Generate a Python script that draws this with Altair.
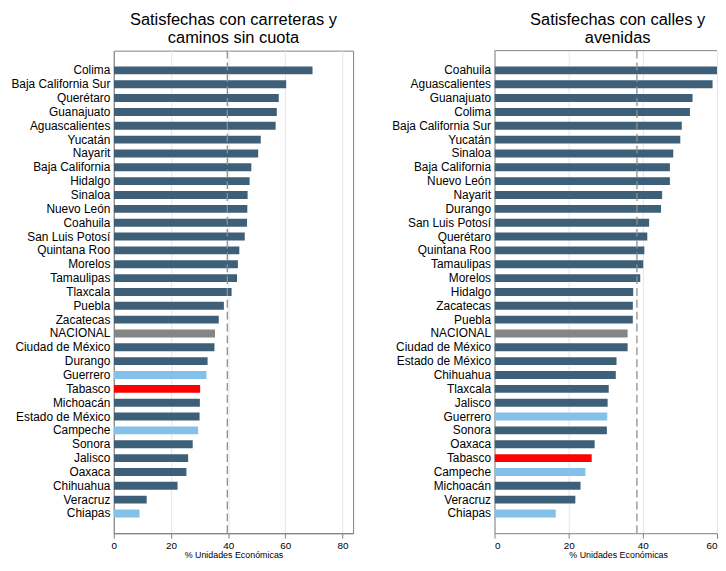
import altair as alt
import pandas as pd

# ---- Data ----
estados_carreteras = ["Colima", "Baja California Sur", "Querétaro", "Guanajuato", "Aguascalientes",
                      "Yucatán", "Nayarit", "Baja California", "Hidalgo", "Sinaloa",
                      "Nuevo León", "Coahuila", "San Luis Potosí", "Quintana Roo", "Morelos",
                      "Tamaulipas", "Tlaxcala", "Puebla", "Zacatecas", "NACIONAL",
                      "Ciudad de México", "Durango", "Guerrero", "Tabasco", "Michoacán",
                      "Estado de México", "Campeche", "Sonora", "Jalisco", "Oaxaca",
                      "Chihuahua", "Veracruz", "Chiapas"]
valores_carreteras = [69.5, 60.3, 57.7, 57.0, 56.6,
                      51.4, 50.5, 48.1, 47.5, 46.8,
                      46.7, 46.6, 45.8, 43.9, 43.4,
                      43.1, 41.2, 38.5, 36.7, 35.4,
                      35.2, 32.8, 32.4, 30.2, 30.1,
                      30.0, 29.5, 27.6, 26.0, 25.4,
                      22.3, 11.5, 9.0]

estados_calles = ["Coahuila", "Aguascalientes", "Guanajuato", "Colima", "Baja California Sur",
                  "Yucatán", "Sinaloa", "Baja California", "Nuevo León", "Nayarit",
                  "Durango", "San Luis Potosí", "Querétaro", "Quintana Roo", "Tamaulipas",
                  "Morelos", "Hidalgo", "Zacatecas", "Puebla", "NACIONAL",
                  "Ciudad de México", "Estado de México", "Chihuahua", "Tlaxcala", "Jalisco",
                  "Guerrero", "Sonora", "Oaxaca", "Tabasco", "Campeche",
                  "Michoacán", "Veracruz", "Chiapas"]
valores_calles = [62.0, 58.8, 53.4, 52.7, 50.5,
                  50.1, 48.2, 47.3, 47.3, 45.2,
                  44.9, 41.7, 41.2, 40.4, 40.1,
                  39.3, 37.4, 37.3, 37.3, 35.9,
                  35.9, 32.9, 32.7, 30.8, 30.5,
                  30.4, 30.3, 27.0, 26.2, 24.5,
                  23.2, 21.8, 16.5]

referencia = [39.7, 38.4]

titulos = [["Satisfechas con carreteras y", "caminos sin cuota"],
           ["Satisfechas con calles y", "avenidas"]]

estados_sur = ["Guerrero", "Campeche", "Chiapas"]
grupos = ["otros", "nacional", "tabasco", "sur"]
colores = ["#3e5f78", "#858585", "#ff0000", "#84c1ea"]


def grupo(e):
    if e == "NACIONAL":
        return "nacional"
    if e == "Tabasco":
        return "tabasco"
    if e in estados_sur:
        return "sur"
    return "otros"


FONT = "Liberation Sans"
ALTO = 488


def panel(estados, valores, ref, titulo, dominio, ancho, ticks, marco, title_dx, axis_title_x):
    df = pd.DataFrame({"estado": estados, "valor": valores,
                       "grupo": [grupo(e) for e in estados]})
    x_axis = alt.Axis(values=ticks, title="% Unidades Económicas", grid=True,
                      gridColor="#e6e6e6", gridWidth=1, tickSize=5, tickColor="#808080",
                      domainColor="#808080", labelFontSize=10, labelPadding=2,
                      labelColor="#000000", labelFlush=(not marco),
                      titleFontSize=9, titleFontWeight="normal", titlePadding=1,
                      titleColor="#000000", titleX=axis_title_x, format="d")
    y_axis = alt.Axis(title=None, ticks=False, domainColor="#808080", labelFontSize=12,
                      labelPadding=4, labelColor="#000000", grid=False)
    bars = alt.Chart(df).mark_bar(clip=True, size=8).encode(
        x=alt.X("valor:Q", scale=alt.Scale(domain=dominio, nice=False), axis=x_axis),
        y=alt.Y("estado:N", sort=None,
                scale=alt.Scale(paddingInner=0.15, paddingOuter=1), axis=y_axis),
        color=alt.Color("grupo:N", scale=alt.Scale(domain=grupos, range=colores), legend=None),
    )
    linea = alt.Chart(pd.DataFrame({"ref": [ref]})).mark_rule(
        strokeDash=[8, 4], color="#8f8f8f", strokeWidth=1.3
    ).encode(x="ref:Q")
    capas = [bars, linea]
    if not marco:
        borde = alt.Chart(pd.DataFrame({"a": [0]})).mark_rule(
            color="#808080", strokeWidth=1
        ).encode(x=alt.value(0), x2=alt.value(ancho), y=alt.value(0))
        capas.append(borde)
    vista = alt.ViewBackground(stroke="#808080" if marco else "transparent", strokeWidth=1)
    return alt.layer(*capas).properties(
        width=ancho, height=ALTO, view=vista,
        title=alt.TitleParams(titulo, fontSize=16.6, font=FONT, fontWeight="normal",
                              lineHeight=19, offset=3, anchor="middle", dx=title_dx,
                              color="#000000"),
    )


izq = panel(estados_carreteras, valores_carreteras, referencia[0], titulos[0],
            [0, 83.7], 242, [0, 20, 40, 60, 80], True, 0, 121)
der = panel(estados_calles, valores_calles, referencia[1], titulos[1],
            [0, 60], 225, [0, 20, 40, 60], False, 12, 125)

chart = alt.hconcat(izq, der, spacing=37).properties(
    padding={"left": 2, "top": 0, "right": 0, "bottom": 0}
).configure(font=FONT, background="#ffffff")

chart.save("out.html", embed_options={"renderer": "svg", "actions": False})
